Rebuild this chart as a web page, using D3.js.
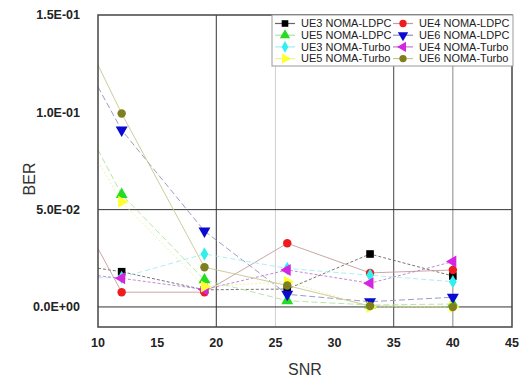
<!DOCTYPE html>
<html><head><meta charset="utf-8">
<script src="https://cdn.jsdelivr.net/npm/d3@7"></script>
<style>body{margin:0;background:#fff}</style></head>
<body><svg id="c" width="527" height="377"></svg>
<script>
// ---- data ----
const snr = [10, 12, 19, 26, 33, 40];
const seriesNames = ["UE3 NOMA-LDPC","UE4 NOMA-LDPC","UE5 NOMA-LDPC","UE6 NOMA-LDPC",
                     "UE3 NOMA-Turbo","UE4 NOMA-Turbo","UE5 NOMA-Turbo","UE6 NOMA-Turbo"];
const ue3Ldpc  = [0.0199, 0.0181, 0.0088, 0.0092, 0.0272, 0.0159];
const ue4Ldpc  = [0.0300, 0.0076, 0.0076, 0.0327, 0.0175, 0.0190];
const ue5Ldpc  = [0.0807, 0.0578, 0.0139, 0.0032, 0.0010, 0.0015];
const ue6Ldpc  = [0.1130, 0.0909, 0.0390, 0.0065, 0.0027, 0.0050];
const ue3Turbo = [0.0150, 0.0152, 0.0272, 0.0198, 0.0163, 0.0130];
const ue4Turbo = [0.0160, 0.0147, 0.0090, 0.0190, 0.0122, 0.0233];
const ue5Turbo = [0.0747, 0.0540, 0.0105, 0.0130, 0.0000, 0.0000];
const ue6Turbo = [0.1243, 0.0994, 0.0204, 0.0110, 0.0005, 0.0000];
const xTicks = [10, 15, 20, 25, 30, 35, 40, 45];
const yTicks = [0, 0.05, 0.10, 0.15];
const xGridVals = [20, 25, 35, 40];
const yGridVals = [0, 0.05];

const values = [ue3Ldpc, ue4Ldpc, ue5Ldpc, ue6Ldpc, ue3Turbo, ue4Turbo, ue5Turbo, ue6Turbo];
const markerColor = ["#000000","#ee1c1c","#22dd22","#0a0ad0","#33eeee","#d624e0","#ffff30","#7f7f1e"];
const lineColor   = ["#666666","#c49c9c","#aee3a0","#9090bf","#a3ecef","#c07ad2","#efef9c","#c6c68e"];
const lineDash    = ["3,2", null, "6,3", "6,3", "5,3", "3,2", "2,2", null];
const shapes = [
  {t:d3.symbolSquare, r:0, s:58}, {t:d3.symbolCircle, r:0, s:56},
  {t:d3.symbolTriangle, r:0, s:62}, {t:d3.symbolTriangle, r:180, s:62},
  {t:d3.symbolDiamond, r:0, s:52}, {t:d3.symbolTriangle, r:-90, s:62},
  {t:d3.symbolTriangle, r:90, s:62}, {t:d3.symbolCircle, r:0, s:56}
];

const svg = d3.select("#c");
const L = 98, R = 512, T = 15, B = 327;
const x = d3.scaleLinear().domain([10, 45]).range([L, R]);
const y = d3.scaleLinear().domain([-0.0103, 0.15]).range([B, T]);

// grid
const gridStyle = {20:["#333",1], 25:["#d0d0d0",1], 35:["#444",1], 40:["#888",1]};
svg.append("g").selectAll("line").data(xGridVals).join("line")
  .attr("x1", d => x(d)).attr("x2", d => x(d)).attr("y1", T).attr("y2", B)
  .attr("stroke", d => gridStyle[d][0]).attr("stroke-width", d => gridStyle[d][1]);
svg.append("g").selectAll("line").data(yGridVals).join("line")
  .attr("x1", L).attr("x2", R).attr("y1", d => y(d)).attr("y2", d => y(d))
  .attr("stroke", "#333").attr("stroke-width", 1);

// clip
svg.append("clipPath").attr("id","clip").append("rect")
  .attr("x", L).attr("y", T).attr("width", R - L).attr("height", B - T);

const plot = svg.append("g").attr("clip-path","url(#clip)");
const line = d3.line().x(d => x(d[0])).y(d => y(d[1]));

values.forEach((vals, i) => {
  const pts = snr.map((s, k) => [s, vals[k]]);
  plot.append("path").datum(pts).attr("d", line)
    .attr("fill","none").attr("stroke", lineColor[i]).attr("stroke-width", 0.9)
    .attr("stroke-dasharray", lineDash[i]);
});
values.forEach((vals, i) => {
  const pts = snr.map((s, k) => [s, vals[k]]).filter(p => p[0] > x.domain()[0]);
  const sh = shapes[i];
  plot.append("g").selectAll("path").data(pts).join("path")
    .attr("d", d3.symbol().type(sh.t).size(sh.s))
    .attr("transform", d => `translate(${x(d[0])},${y(d[1])}) rotate(${sh.r})`)
    .attr("fill", markerColor[i]);
});

// frame
svg.append("rect").attr("x", L).attr("y", T).attr("width", R - L).attr("height", B - T)
  .attr("fill","none").attr("stroke","#444").attr("stroke-width",1.5);

// axes labels
const fmtY = v => {
  const s = v.toExponential(1).toUpperCase();
  return s.replace(/E([+-])(\d)$/, "E$10$2");
};
svg.append("g").selectAll("text").data(yTicks).join("text")
  .attr("x", 80).attr("y", d => y(d)).attr("dy","0.35em").attr("text-anchor","end")
  .attr("font-family","Liberation Sans, Arial, sans-serif").attr("font-weight","bold")
  .attr("font-size", 12.5).attr("fill","#222").text(fmtY);
svg.append("g").selectAll("text").data(xTicks).join("text")
  .attr("x", d => x(d)).attr("y", 343).attr("dy","0.35em").attr("text-anchor","middle")
  .attr("font-family","Liberation Sans, Arial, sans-serif").attr("font-weight","bold")
  .attr("font-size", 12.5).attr("fill","#222").text(d => d);
svg.append("text").attr("x", (L + R) / 2).attr("y", 369).attr("dy","0.35em")
  .attr("text-anchor","middle").attr("font-family","Liberation Sans, Arial, sans-serif")
  .attr("font-size", 16).attr("fill","#333").text("SNR");
svg.append("text").attr("transform", `translate(29,${(T + B) / 2 + 8}) rotate(-90)`)
  .attr("dy","0.35em").attr("text-anchor","middle").attr("font-family","Liberation Sans, Arial, sans-serif")
  .attr("font-size", 16).attr("fill","#333").text("BER");

// legend
const lg = svg.append("g");
lg.append("rect").attr("x", 272).attr("y", T).attr("width", 241).attr("height", 51)
  .attr("fill","#fff").attr("stroke","#999").attr("stroke-width",1);
seriesNames.forEach((name, i) => {
  const col = i % 2, row = Math.floor(i / 2);
  const sx = col === 0 ? 285 : 403;
  const ty = 23.5 + row * 11.7;
  lg.append("line").attr("x1", sx - 10).attr("x2", sx + 10).attr("y1", ty).attr("y2", ty)
    .attr("stroke", lineColor[i]).attr("stroke-width", 1.2);
  const sh = shapes[i];
  lg.append("path").attr("d", d3.symbol().type(sh.t).size(sh.s * 0.75))
    .attr("transform", `translate(${sx},${ty}) rotate(${sh.r})`).attr("fill", markerColor[i]);
  lg.append("text").attr("x", sx + 16).attr("y", ty).attr("dy","0.35em")
    .attr("font-family","Liberation Sans, Arial, sans-serif").attr("font-size", 11)
    .attr("fill","#222").text(name);
});
</script>
</body></html>
